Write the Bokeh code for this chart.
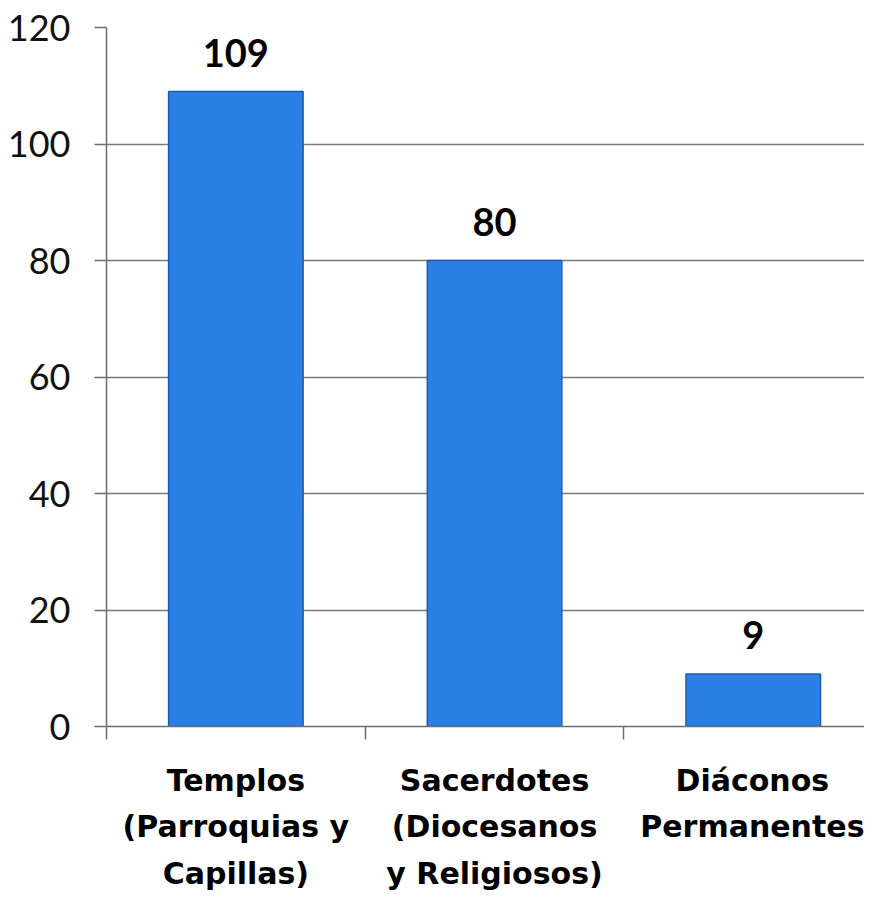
from bokeh.plotting import figure
from bokeh.models import ColumnDataSource, FixedTicker, LabelSet, Range1d
from bokeh.core.properties import value
from bokeh.embed import file_html
from bokeh.resources import INLINE

categories = ["Templos\n(Parroquias y\nCapillas)",
              "Sacerdotes\n(Diocesanos\ny Religiosos)",
              "Diáconos\nPermanentes"]
values = [109, 80, 9]
y_ticks = [0, 20, 40, 60, 80, 100, 120]

xs = [i + 0.5 for i in range(len(categories))]
src = ColumnDataSource(dict(x=xs, top=values, label=[str(v) for v in values]))

p = figure(width=864, height=893, output_backend="svg", toolbar_location=None,
           x_range=Range1d(0, 2.93), y_range=Range1d(0, 120),
           min_border_left=106, min_border_top=27, min_border_right=0,
           min_border_bottom=0)
p.outline_line_color = None
p.background_fill_color = "white"
p.border_fill_color = "white"

p.vbar(x="x", top="top", width=0.52, bottom=0, source=src,
       fill_color="#2a80e4", line_color="#1c5cb0", line_width=1.5)

labels = LabelSet(x="x", y="top", text="label", source=src, text_align="center",
                  text_baseline="alphabetic", y_offset=25,
                  text_font=value("Lato"), text_font_style="bold",
                  text_font_size="38px", text_color="black")
p.add_layout(labels)

# y axis
p.yaxis.ticker = FixedTicker(ticks=y_ticks)
p.yaxis.axis_line_color = "#6e6e6e"
p.yaxis.axis_line_width = 1.5
p.yaxis.major_tick_in = 0
p.yaxis.major_tick_out = 12
p.yaxis.major_tick_line_color = "#6e6e6e"
p.yaxis.major_tick_line_width = 1.5
p.yaxis.minor_tick_line_color = None
p.yaxis.major_label_standoff = 24
p.yaxis.major_label_text_font = "Lato"
p.yaxis.major_label_text_font_size = "36px"
p.yaxis.major_label_text_color = "#111111"

# x axis
p.xaxis.ticker = FixedTicker(ticks=xs, minor_ticks=[0, 1, 2, 3])
p.xaxis.major_label_overrides = {x: c for x, c in zip(xs, categories)}
p.xaxis.axis_line_color = "#6e6e6e"
p.xaxis.axis_line_width = 1.5
p.xaxis.major_tick_line_color = None
p.xaxis.major_tick_in = 0
p.xaxis.major_tick_out = 0
p.xaxis.minor_tick_in = 0
p.xaxis.minor_tick_out = 13
p.xaxis.minor_tick_line_color = "#6e6e6e"
p.xaxis.minor_tick_line_width = 1.5
p.xaxis.major_label_standoff = 23
p.xaxis.major_label_text_font = "DejaVu Sans"
p.xaxis.major_label_text_font_style = "bold"
p.xaxis.major_label_text_font_size = "30px"
p.xaxis.major_label_text_color = "black"
p.xaxis.major_label_text_line_height = 1.33

p.xgrid.grid_line_color = None
p.ygrid.ticker = FixedTicker(ticks=y_ticks)
p.ygrid.grid_line_color = "#7a7a7a"
p.ygrid.grid_line_width = 1.5

open("out.html", "w").write(file_html(p, INLINE))
